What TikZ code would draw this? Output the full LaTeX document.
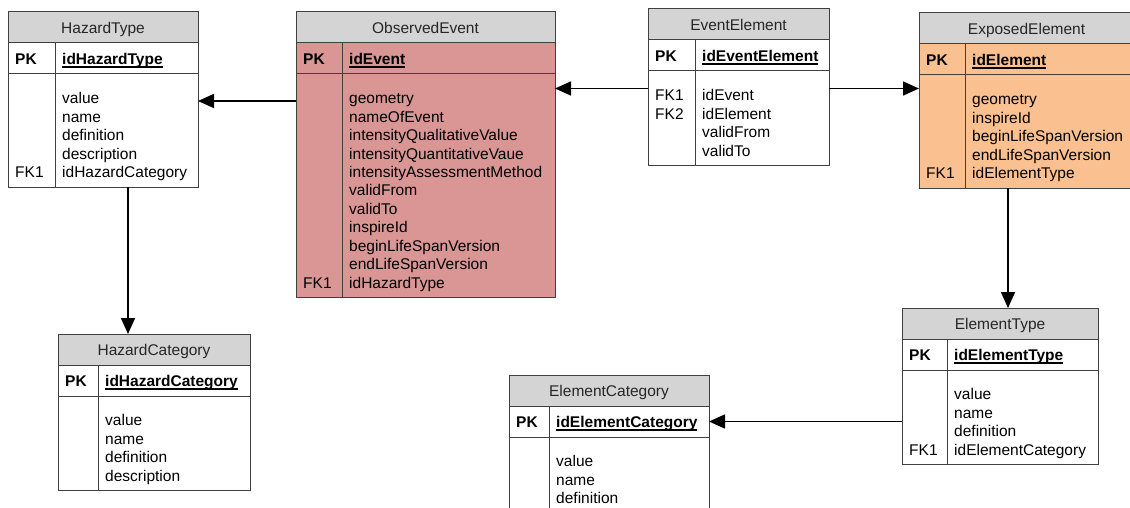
\documentclass[tikz,border=0pt]{standalone}
\usepackage{fontspec}
\setmainfont{Liberation Sans}
\usetikzlibrary{arrows.meta, positioning, fit, backgrounds}

\definecolor{headgray}{RGB}{212,212,212}
\definecolor{linegray}{RGB}{64,64,64}
\definecolor{eventred}{RGB}{217,150,148}
\definecolor{exposedorange}{RGB}{250,192,144}

\newcommand{\erdfont}{\fontsize{15.5}{18.43}\selectfont}
% thick underline for the primary key
\newsavebox{\pkbox}
\newcommand{\pkline}[1]{\sbox{\pkbox}{#1}\usebox{\pkbox}\llap{\rule[-3.5pt]{\wd\pkbox}{1.5pt}}}

% table: [key column width]{name}{top left}{width}{fill}{title}{primary key}{key & field rows}
\newcommand{\erdtable}[8][46pt]{%
  \node[tablehead, minimum width=#4, anchor=north west] (#2-head) at (#3) {#6};
  \node[pkrow, minimum width=#4, fill=#5, below=0pt of #2-head] (#2-pk) {};
  \node[pklabel, anchor=west] at ([xshift=7pt]#2-pk.west) {PK};
  \node[pklabel, anchor=west] (#2-key) at ([xshift=#1+7pt]#2-pk.west) {\pkline{#7}};
  \node[rows, anchor=north west] (#2-rows) at ([xshift=7pt, yshift=-16.7pt]#2-pk.south west)
    {\begin{tabular}{@{}p{#1}@{}l@{}}#8\end{tabular}};
  \coordinate (#2-end) at ([yshift=-4pt]#2-rows.south);
  \begin{scope}[on background layer]
    \node[tablebody, fill=#5, fit=(#2-pk.south west) (#2-pk.south east) (#2-end)] (#2-body) {};
  \end{scope}
  \draw[tableline] ([xshift=#1]#2-head.south west) -- ([xshift=#1]#2-body.south west);
}

\begin{document}
\begin{tikzpicture}[
    x=1pt, y=-1pt,
    tablehead/.style={rectangle, draw=linegray, line width=1pt, fill=headgray, minimum height=31pt, inner sep=0pt, outer sep=0pt, font=\erdfont, text=black!85, text height=13pt, text depth=1.9pt},
    pkrow/.style={rectangle, draw=linegray, line width=1pt, minimum height=31pt, inner sep=0pt, outer sep=0pt},
    pklabel/.style={inner sep=0pt, font=\erdfont\bfseries, text height=13pt, text depth=1.9pt},
    rows/.style={inner sep=0pt, font=\erdfont},
    tablebody/.style={rectangle, draw=linegray, line width=1pt, inner sep=0pt, outer sep=0pt},
    tableline/.style={draw=linegray, line width=1pt},
    arrow/.style={line width=1.6pt, -{Triangle[length=16pt, width=14pt]}}
]
\useasboundingbox (0,0) rectangle (1130,508);

% Tables
\erdtable[47pt]{ht}{8,12}{190pt}{white}{HazardType}{idHazardType}{%
  & value\\ & name\\ & definition\\ & description\\ FK1 & idHazardCategory}

\erdtable{oe}{296,12}{259pt}{eventred}{ObservedEvent}{idEvent}{%
  & geometry\\ & nameOfEvent\\ & intensityQualitativeValue\\ & intensityQuantitativeVaue\\
  & intensityAssessmentMethod\\ & validFrom\\ & validTo\\ & inspireId\\
  & beginLifeSpanVersion\\ & endLifeSpanVersion\\ FK1 & idHazardType}

\erdtable[47pt]{ee}{648,9}{181pt}{white}{EventElement}{idEventElement}{%
  FK1 & idEvent\\ FK2 & idElement\\ & validFrom\\ & validTo}

\erdtable{ex}{919,13}{215pt}{exposedorange}{ExposedElement}{idElement}{%
  & geometry\\ & inspireId\\ & beginLifeSpanVersion\\ & endLifeSpanVersion\\ FK1 & idElementType}

\erdtable[40pt]{hc}{58,334}{192pt}{white}{HazardCategory}{idHazardCategory}{%
  & value\\ & name\\ & definition\\ & description}

\erdtable[40pt]{ec}{509,375}{200pt}{white}{ElementCategory}{idElementCategory}{%
  & value\\ & name\\ & definition}

\erdtable[45pt]{et}{902,308}{196pt}{white}{ElementType}{idElementType}{%
  & value\\ & name\\ & definition\\ FK1 & idElementCategory}

% Arrows
\coordinate (ht-in) at ([yshift=-27pt]ht-body.north east);
\draw[arrow] (oe-body.west |- ht-in) -- (ht-in);

\coordinate (ee-link) at ([yshift=-17.5pt]ee-body.north west);
\draw[arrow] (ee-link) -- (ee-link -| oe-body.east);
\draw[arrow] (ee-link -| ee-body.east) -- (ee-link -| ex-body.west);

\coordinate (ht-down) at ([xshift=120pt]ht-body.south west);
\draw[arrow] (ht-down) -- (ht-down |- hc-head.north);

\coordinate (ex-down) at ([xshift=89pt]ex-body.south west);
\draw[arrow] (ex-down) -- (ex-down |- et-head.north);

\draw[arrow] (et-body.west |- ec-pk.east) -- (ec-pk.east);

\end{tikzpicture}
\end{document}
